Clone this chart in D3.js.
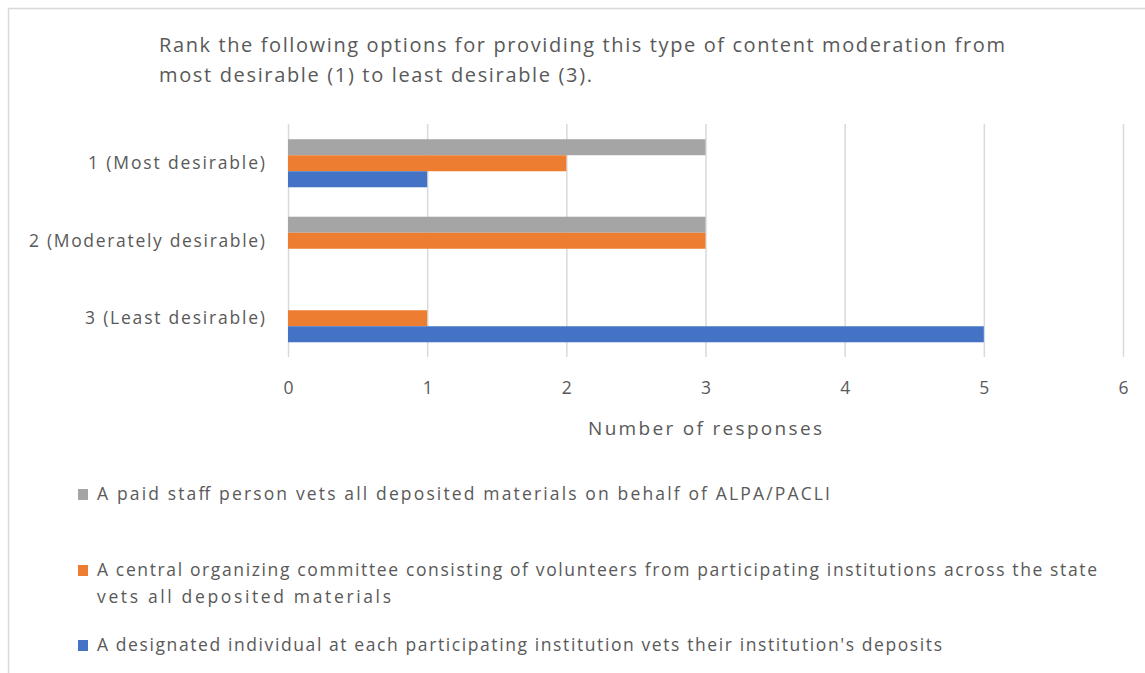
<!DOCTYPE html>
<html>
<head>
<meta charset="utf-8">
<script src="https://cdn.jsdelivr.net/npm/d3@7"></script>
<style>
  html, body { margin: 0; padding: 0; background: #fff; }
  svg { display: block; }
  text { font-family: "Open Sans", "Noto Sans", sans-serif; fill: #595959; }
</style>
</head>
<body>
<svg id="chart" width="1145" height="673"></svg>
<script>
// Survey responses: number of respondents choosing each rank
const categories = ["1 (Most desirable)", "2 (Moderately desirable)", "3 (Least desirable)"];
const seriesNames = [
  "A paid staff person vets all deposited materials on behalf of ALPA/PACLI",
  "A central organizing committee consisting of volunteers from participating institutions across the state vets all deposited materials",
  "A designated individual at each participating institution vets their institution's deposits"
];
const paidStaff = [3, 3, 0];
const centralCommittee = [2, 3, 1];
const designatedIndividual = [1, 0, 5];
const xTicks = [0, 1, 2, 3, 4, 5, 6];
const titleLines = [
  "Rank the  following options for providing this type of content moderation from",
  "most desirable (1) to least desirable (3)."
];
const xAxisTitle = "Number  of responses";
const legendLines = [
  ["A paid staff person vets all deposited materials on behalf of ALPA/PACLI"],
  ["A central organizing committee consisting of volunteers from participating institutions across the state",
   "vets all deposited materials"],
  ["A designated individual at each participating institution vets their institution's deposits"]
];

const colors = ["#A5A5A5", "#ED7D31", "#4472C4"];
const seriesValues = [paidStaff, centralCommittee, designatedIndividual];

// set widths of text runs so the wide chart typeface spacing is kept
const titleWidths = [846, 433];
const categoryWidths = [177, 236, 180];
const xAxisTitleWidth = 234;
const legendWidths = [[733], [1000, 294], [845]];

const svg = d3.select("#chart");

// chart frame
svg.append("path")
  .attr("d", "M8.5,673 L8.5,8.5 L1145,8.5")
  .attr("fill", "none")
  .attr("stroke", "#D9D9D9")
  .attr("stroke-width", 1.5);

// title
svg.append("g")
  .selectAll("text")
  .data(titleLines)
  .join("text")
  .attr("x", 159)
  .attr("y", (d, i) => 52 + i * 30)
  .attr("font-size", 20)
  .attr("textLength", (d, i) => titleWidths[i])
  .attr("lengthAdjust", "spacing")
  .text(d => d);

const x = d3.scaleLinear().domain([0, 6]).range([288, 1123]);
const y = d3.scaleBand().domain(categories).range([124.5, 357]).paddingInner(0.38).paddingOuter(0.19);
const ySub = d3.scaleBand().domain(d3.range(seriesNames.length)).range([0, y.bandwidth()]);

// vertical gridlines
svg.append("g")
  .selectAll("line")
  .data(xTicks)
  .join("line")
  .attr("x1", d => x(d) + 0.5)
  .attr("x2", d => x(d) + 0.5)
  .attr("y1", 124)
  .attr("y2", 357)
  .attr("stroke", "#D9D9D9")
  .attr("stroke-width", 1.5);

// bars
const groups = svg.append("g")
  .selectAll("g")
  .data(categories)
  .join("g")
  .attr("transform", d => `translate(0,${y(d)})`);

groups.selectAll("rect")
  .data((c, ci) => seriesValues.map((vals, si) => ({ si, v: vals[ci] })))
  .join("rect")
  .attr("x", x(0))
  .attr("y", d => ySub(d.si))
  .attr("width", d => x(d.v) - x(0))
  .attr("height", ySub.bandwidth())
  .attr("fill", d => colors[d.si]);

// category axis labels
svg.append("g")
  .selectAll("text")
  .data(categories)
  .join("text")
  .attr("x", 265)
  .attr("y", d => y(d) + y.bandwidth() / 2)
  .attr("dy", "0.35em")
  .attr("text-anchor", "end")
  .attr("font-size", 17.5)
  .attr("textLength", (d, i) => categoryWidths[i])
  .attr("lengthAdjust", "spacing")
  .text(d => d);

// value axis
const xAxis = d3.axisBottom(x).tickValues(xTicks).tickSize(0).tickPadding(0).tickFormat(d3.format("d"));
const axisG = svg.append("g").attr("transform", "translate(0,388)").call(xAxis);
axisG.select(".domain").remove();
axisG.selectAll("text")
  .attr("font-size", 17.5)
  .attr("fill", "#595959")
  .attr("font-family", "\"Open Sans\", \"Noto Sans\", sans-serif")
  .attr("dy", "0.35em");

svg.append("text")
  .attr("x", 588)
  .attr("y", 428)
  .attr("dy", "0.35em")
  .attr("font-size", 19)
  .attr("textLength", xAxisTitleWidth)
  .attr("lengthAdjust", "spacing")
  .text(xAxisTitle);

// legend
const legendY = [494, 570, 645];
const legend = svg.append("g")
  .selectAll("g")
  .data(seriesNames)
  .join("g")
  .attr("transform", (d, i) => `translate(0,${legendY[i]})`);

legend.append("rect")
  .attr("x", 78)
  .attr("y", -5)
  .attr("width", 10)
  .attr("height", 11)
  .attr("fill", (d, i) => colors[i]);

legend.each(function (d, i) {
  d3.select(this).selectAll("text")
    .data(legendLines[i])
    .join("text")
    .attr("x", 97)
    .attr("y", (t, j) => j * 27)
    .attr("dy", "0.35em")
    .attr("font-size", 17.5)
    .attr("textLength", (t, j) => legendWidths[i][j])
    .attr("lengthAdjust", "spacing")
    .text(t => t);
});
</script>
</body>
</html>
